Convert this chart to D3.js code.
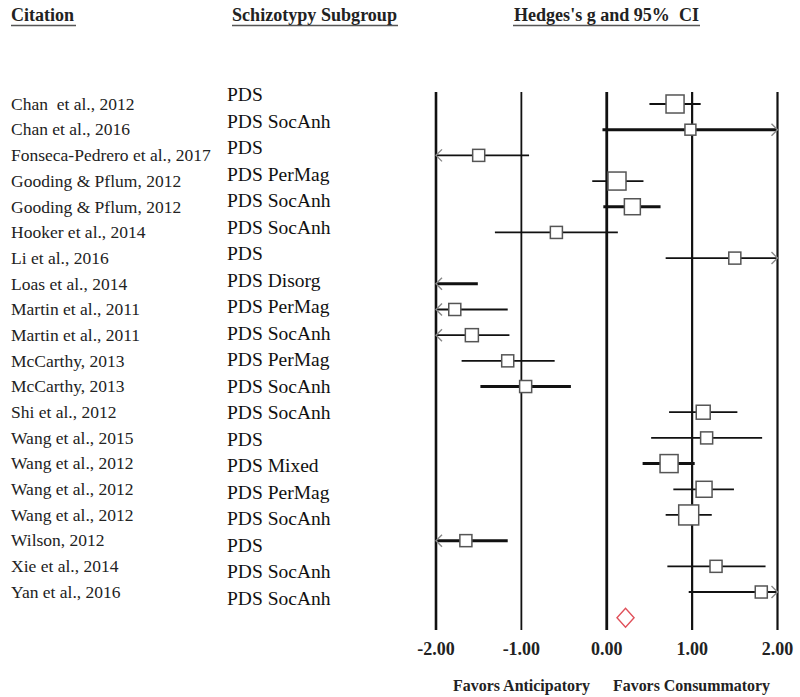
<!DOCTYPE html>
<html>
<head>
<meta charset="utf-8">
<script src="https://cdn.jsdelivr.net/npm/d3@7"></script>
<style>
  body { margin: 0; background: #fff; }
  svg { font-family: "Liberation Serif", "Times New Roman", serif; }
</style>
</head>
<body>
<div id="chart"></div>
<script>
// study rows, top to bottom
const citations = [
  "Chan  et al., 2012", "Chan et al., 2016", "Fonseca-Pedrero et al., 2017",
  "Gooding & Pflum, 2012", "Gooding & Pflum, 2012", "Hooker et al., 2014",
  "Li et al., 2016", "Loas et al., 2014", "Martin et al., 2011", "Martin et al., 2011",
  "McCarthy, 2013", "McCarthy, 2013", "Shi et al., 2012", "Wang et al., 2015",
  "Wang et al., 2012", "Wang et al., 2012", "Wang et al., 2012", "Wilson, 2012",
  "Xie et al., 2014", "Yan et al., 2016"
];
const subgroups = [
  "PDS", "PDS SocAnh", "PDS", "PDS PerMag", "PDS SocAnh", "PDS SocAnh", "PDS",
  "PDS Disorg", "PDS PerMag", "PDS SocAnh", "PDS PerMag", "PDS SocAnh", "PDS SocAnh",
  "PDS", "PDS Mixed", "PDS PerMag", "PDS SocAnh", "PDS", "PDS SocAnh", "PDS SocAnh"
];
// Hedges's g with 95% CI
const hedgesG = [0.80, 0.98, -1.50, 0.12, 0.30, -0.59, 1.50, -2.50, -1.78, -1.58,
                 -1.16, -0.95, 1.13, 1.17, 0.73, 1.14, 0.96, -1.65, 1.28, 1.81];
const lowerCI = [0.50, -0.05, -2.09, -0.17, -0.04, -1.31, 0.69, -3.50, -2.40, -2.02,
                 -1.70, -1.48, 0.73, 0.52, 0.42, 0.78, 0.69, -2.14, 0.71, 0.96];
const upperCI = [1.10, 2.02, -0.91, 0.43, 0.63, 0.13, 2.31, -1.51, -1.16, -1.14,
                 -0.61, -0.42, 1.53, 1.82, 1.03, 1.49, 1.23, -1.16, 1.86, 2.66];
// relative study weights (%)
const weights = [6.5, 2.4, 2.9, 6.5, 5.1, 2.9, 2.9, 2.9, 2.9, 3.4,
                 2.9, 2.9, 3.9, 2.9, 6.5, 5.1, 8.0, 2.9, 2.9, 2.9];
// rows drawn with the heavier line
const heavyRows = [1, 4, 7, 11, 14, 17];
// pooled estimate
const pooled = { g: 0.22, lo: 0.12, hi: 0.32 };
const tickValues = [-2, -1, 0, 1, 2];
const favorLabels = ["Favors Anticipatory", "Favors Consummatory"];

const W = 800, H = 697;
const svg = d3.select("#chart").append("svg")
  .attr("width", W).attr("height", H);

const x = d3.scaleLinear().domain([-2, 2]).range([436, 777.5]);
const rowKeys = d3.range(citations.length + 1);
const y = d3.scalePoint().domain(rowKeys).range([104, 617.7]);
const ySub = d3.scalePoint().domain(d3.range(subgroups.length)).range([95, 598.3]);
const size = d3.scaleSqrt().domain([0, 8]).range([0, 20]);

// headers (the source squeezes these horizontally)
const headers = [
  { text: "Citation", x: 11, len: 63, u: [11, 76] },
  { text: "Schizotypy Subgroup", x: 232, len: 165, u: [232, 398] },
  { text: "Hedges's g and 95%  CI", x: 514, len: 185, u: [513, 700] }
];
svg.selectAll("text.head").data(headers).join("text")
  .attr("class", "head")
  .attr("x", d => d.x).attr("y", 21)
  .attr("textLength", d => d.len).attr("lengthAdjust", "spacingAndGlyphs")
  .style("font-size", "18.5px").style("font-weight", "bold")
  .style("white-space", "pre").attr("fill", "#222")
  .text(d => d.text);
svg.selectAll("line.under").data(headers).join("line")
  .attr("class", "under")
  .attr("x1", d => d.u[0]).attr("x2", d => d.u[1])
  .attr("y1", 25.5).attr("y2", 25.5)
  .attr("stroke", "#555").attr("stroke-width", 1.5);

// citation column
svg.selectAll("text.cite").data(citations).join("text")
  .attr("class", "cite")
  .attr("x", 11).attr("y", (d, i) => y(i)).attr("dy", "0.33em")
  .style("font-size", "17.5px").style("white-space", "pre").attr("fill", "#222")
  .text(d => d);

// subgroup column
svg.selectAll("text.sub").data(subgroups).join("text")
  .attr("class", "sub")
  .attr("x", 227).attr("y", (d, i) => ySub(i)).attr("dy", "0.33em")
  .style("font-size", "19.5px").attr("fill", "#111")
  .text(d => d);

// vertical reference lines
const vWidth = { "-2": 2.6, "-1": 1.8, "0": 2.8, "1": 2.2, "2": 2.2 };
svg.selectAll("line.ref").data(tickValues).join("line")
  .attr("class", "ref")
  .attr("x1", d => x(d)).attr("x2", d => x(d))
  .attr("y1", 92).attr("y2", 630)
  .attr("stroke", "#111").attr("stroke-width", d => vWidth[d]);

// tick labels (plain hyphen for negatives, as in the source)
const fmt = d3.formatLocale({ decimal: ".", thousands: ",", grouping: [3], currency: ["", ""], minus: "-" }).format(".2f");
svg.selectAll("text.tick").data(tickValues).join("text")
  .attr("class", "tick")
  .attr("x", d => x(d)).attr("y", 655)
  .attr("text-anchor", "middle")
  .style("font-size", "18px").style("font-weight", "bold").attr("fill", "#222")
  .text(d => fmt(d));

// favors labels
svg.selectAll("text.favor").data(favorLabels).join("text")
  .attr("class", "favor")
  .attr("x", (d, i) => i === 0 ? 453 : 613).attr("y", 691)
  .attr("textLength", (d, i) => i === 0 ? 137 : 157)
  .attr("lengthAdjust", "spacingAndGlyphs")
  .style("font-size", "17.5px").style("font-weight", "bold").attr("fill", "#222")
  .text(d => d);

// study data
const studies = citations.map((c, i) => ({
  i, g: hedgesG[i], lo: lowerCI[i], hi: upperCI[i], w: weights[i],
  heavy: heavyRows.includes(i)
}));
const [xmin, xmax] = x.domain();

// CI lines (clipped to the axis)
svg.selectAll("line.ci").data(studies).join("line")
  .attr("class", "ci")
  .attr("x1", d => x(Math.max(d.lo, xmin)))
  .attr("x2", d => x(Math.min(d.hi, xmax)))
  .attr("y1", d => y(d.i)).attr("y2", d => y(d.i))
  .attr("stroke", "#111").attr("stroke-width", d => d.heavy ? 3 : 1.8);

// arrows where the CI runs off the axis
const arrows = [];
studies.forEach(d => {
  if (d.lo < xmin) arrows.push({ i: d.i, dir: -1 });
  if (d.hi > xmax) arrows.push({ i: d.i, dir: 1 });
});
svg.selectAll("path.arrow").data(arrows).join("path")
  .attr("class", "arrow")
  .attr("d", d => {
    const tx = d.dir < 0 ? x(xmin) : x(xmax), ty = y(d.i);
    return `M${tx - d.dir * 6},${ty - 6}L${tx},${ty}L${tx - d.dir * 6},${ty + 6}`;
  })
  .attr("fill", "none").attr("stroke", "#888").attr("stroke-width", 1.4);

// weight squares
svg.selectAll("rect.box").data(studies.filter(d => d.g >= xmin && d.g <= xmax)).join("rect")
  .attr("class", "box")
  .attr("x", d => x(d.g) - size(d.w) / 2)
  .attr("y", d => y(d.i) - size(d.w) / 2)
  .attr("width", d => size(d.w)).attr("height", d => size(d.w))
  .attr("fill", "#fff").attr("stroke", "#555").attr("stroke-width", 1.5);

// pooled diamond
const py = y(citations.length);
svg.append("path")
  .attr("d", `M${x(pooled.lo)},${py}L${x(pooled.g)},${py - 9.5}L${x(pooled.hi)},${py}L${x(pooled.g)},${py + 9.5}Z`)
  .attr("fill", "none").attr("stroke", "#e0505a").attr("stroke-width", 1.4);
</script>
</body>
</html>
